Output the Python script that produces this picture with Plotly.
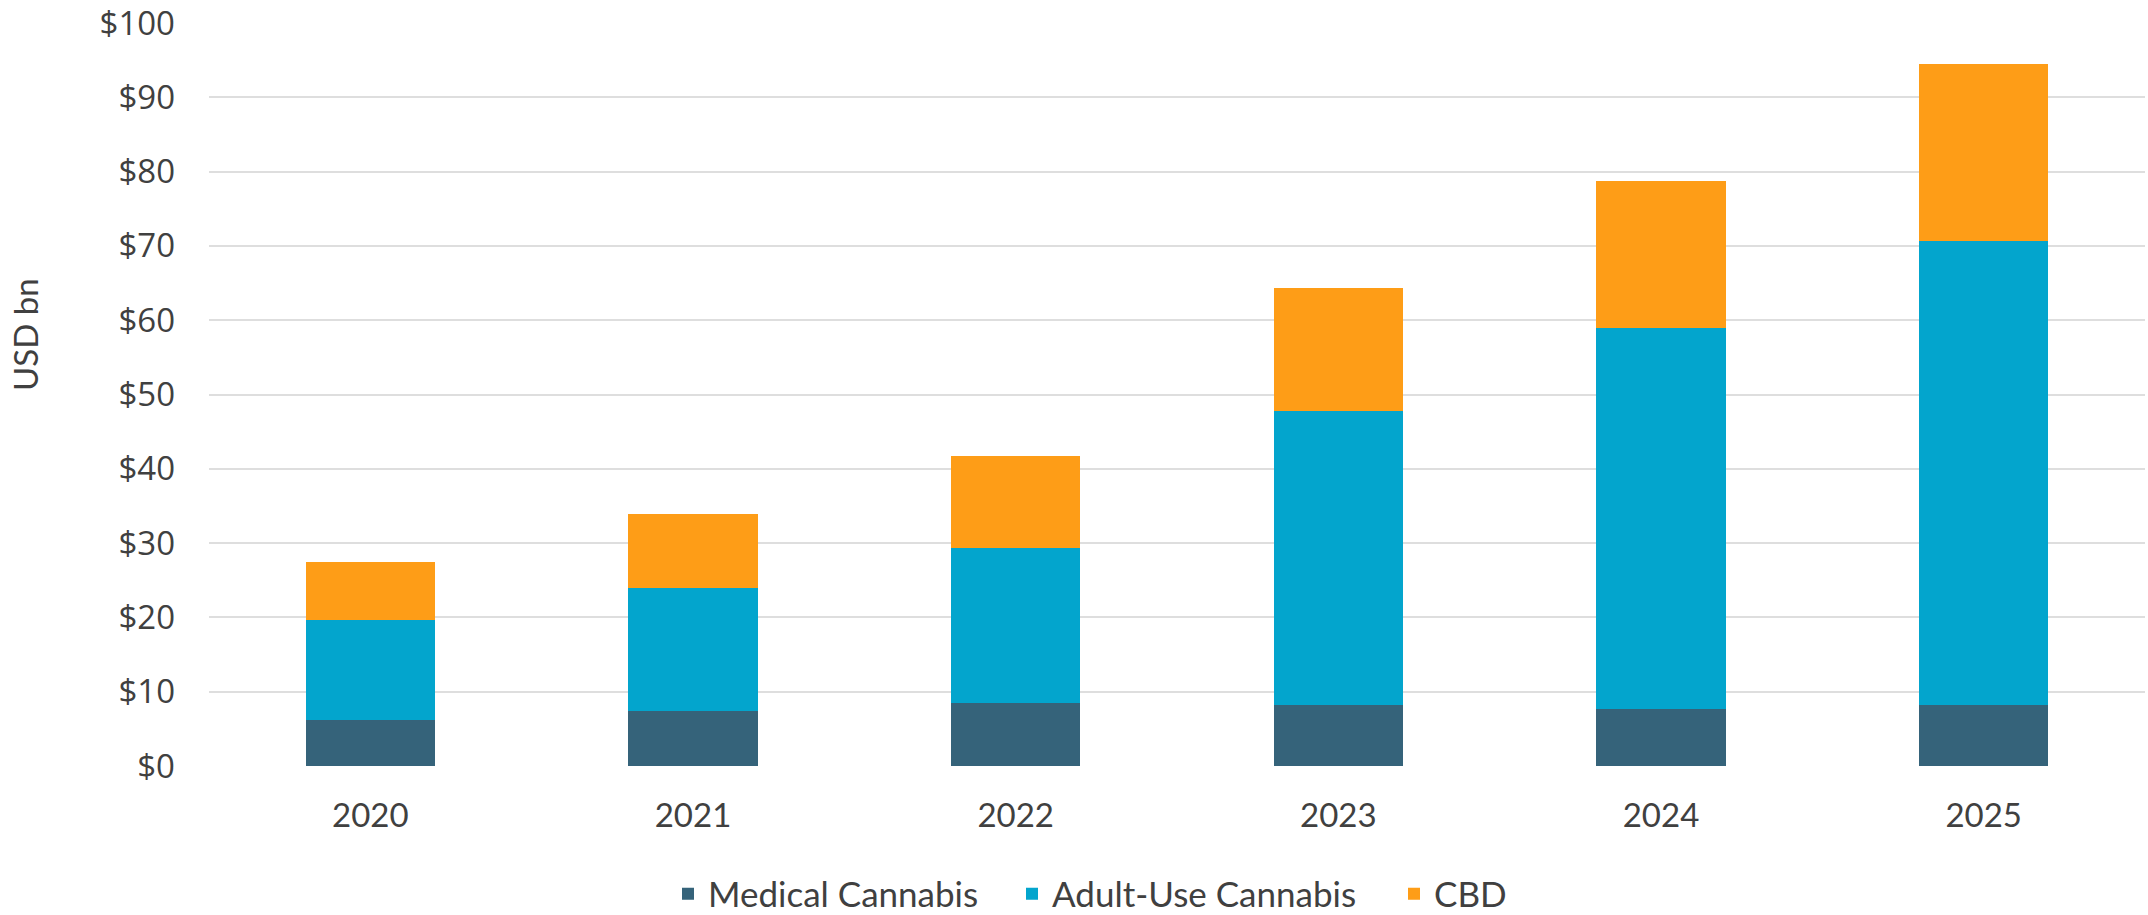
import plotly.graph_objects as go

years = ["2020", "2021", "2022", "2023", "2024", "2025"]
medical = [6.2, 7.4, 8.5, 8.2, 7.7, 8.2]
adult_use = [13.4, 16.6, 20.9, 39.6, 51.2, 62.4]
cbd = [7.9, 9.9, 12.3, 16.6, 19.8, 23.9]

series_names = ["Medical Cannabis", "Adult-Use Cannabis", "CBD"]
series_colors = ["#35637A", "#03A5CD", "#FE9D17"]

W, H = 2148, 915
L, R, T, B = 209, 3, 23, 149
plot_w = W - L - R
plot_h = H - T - B

legend_ids = ["legend", "legend2", "legend3"]
legend_px = [668, 1012, 1394]   # left edge of each legend entry (pixels)
legend_y = (T + plot_h - 894) / plot_h

fig = go.Figure()
for name, vals, col, lid in zip(series_names, [medical, adult_use, cbd], series_colors, legend_ids):
    fig.add_trace(go.Bar(
        x=years, y=vals, name=name, legend=lid,
        marker=dict(color=col, line=dict(width=0)),
    ))

legend_common = dict(
    orientation="h", xanchor="left", yanchor="middle", y=legend_y,
    font=dict(family="Lato", size=35, color="#404040"),
    itemwidth=30, bgcolor="rgba(0,0,0,0)", borderwidth=0,
)
legend_layout = {}
for lid, px in zip(legend_ids, legend_px):
    legend_layout[lid] = dict(legend_common, x=(px - L) / plot_w)

fig.update_layout(
    width=W, height=H,
    barmode="stack", bargap=0.6,
    margin=dict(l=L, r=R, t=T, b=B, autoexpand=False),
    paper_bgcolor="white", plot_bgcolor="white",
    font=dict(family="Lato", color="#404040"),
    showlegend=True,
    **legend_layout,
    xaxis=dict(
        showgrid=False, showline=False, zeroline=False, ticks="",
        tickfont=dict(family="Lato", size=33, color="#404040"),
        ticklabelstandoff=27,
    ),
    yaxis=dict(
        range=[0, 100], dtick=10, tickprefix="$",
        showgrid=True, gridcolor="#DEDEDE", gridwidth=2,
        zeroline=False, showline=False, ticks="",
        tickfont=dict(family="Open Sans", size=33, color="#404040"),
        ticklabelstandoff=33, ticklabeloverflow="allow",
    ),
    annotations=[dict(
        text="USD bn", xref="paper", yref="paper",
        x=(25 - L) / plot_w, y=(T + plot_h - 335) / plot_h,
        xanchor="center", yanchor="middle", showarrow=False, textangle=-90,
        font=dict(family="Lato", size=33, color="#404040"),
    )],
)

fig.write_html("out.html")
